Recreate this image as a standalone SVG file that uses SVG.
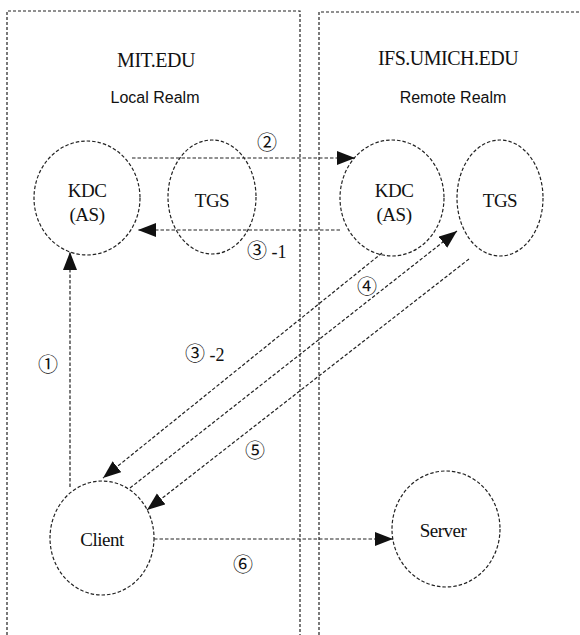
<svg xmlns="http://www.w3.org/2000/svg" width="580" height="635" viewBox="0 0 580 635">
<style>
.frame{fill:none;stroke:#222;stroke-width:1.2;stroke-dasharray:3 2}
.node{fill:none;stroke:#222;stroke-width:1.2;stroke-dasharray:3.5 2}
.conn{fill:none;stroke:#222;stroke-width:1.2;stroke-dasharray:3.5 2}
.title{font-family:"Liberation Serif","Times New Roman",serif;font-size:20px;fill:#111;text-anchor:middle;letter-spacing:-0.5px}
.realm{font-family:"Liberation Sans",Arial,sans-serif;font-size:16px;fill:#111;text-anchor:middle}
.lbl{font-family:"Liberation Serif","Times New Roman",serif;font-size:19px;fill:#111;text-anchor:middle;letter-spacing:-0.5px}
.num{font-family:"Noto Sans CJK KR",serif;font-size:20px;fill:#111}
.dash{font-family:"Liberation Serif","Times New Roman",serif;font-size:18px}
</style>
<defs>
<marker id="arr" markerUnits="userSpaceOnUse" markerWidth="19" markerHeight="15" refX="18" refY="7" orient="auto">
<path d="M0,0 L18,7 L0,14 z" fill="#111"/>
</marker>
</defs>
<rect width="580" height="635" fill="#fff"/>
<g id="realms">
<path class="frame" d="M7,635 V11 H300 V635"/>
<path class="frame" d="M319,635 V12 H580"/>
<text class="title" x="156" y="67">MIT.EDU</text>
<text class="realm" x="155" y="103">Local Realm</text>
<text class="title" x="448" y="65">IFS.UMICH.EDU</text>
<text class="realm" x="453" y="103">Remote Realm</text>
</g>
<g id="local-kdc">
<ellipse class="node" cx="87" cy="198" rx="53" ry="57"/>
<text class="lbl" x="87" y="197">KDC</text>
<text class="lbl" x="87" y="221">(AS)</text>
</g>
<g id="local-tgs">
<ellipse class="node" cx="212" cy="197" rx="44" ry="57"/>
<text class="lbl" x="212" y="207">TGS</text>
</g>
<g id="remote-kdc">
<ellipse class="node" cx="392" cy="198" rx="52" ry="58"/>
<text class="lbl" x="394" y="197">KDC</text>
<text class="lbl" x="394" y="221">(AS)</text>
</g>
<g id="remote-tgs">
<ellipse class="node" cx="500" cy="198" rx="43" ry="58"/>
<text class="lbl" x="500" y="207">TGS</text>
</g>
<g id="client">
<ellipse class="node" cx="102" cy="538" rx="52" ry="57"/>
<text class="lbl" x="102" y="546">Client</text>
</g>
<g id="server">
<ellipse class="node" cx="446" cy="529" rx="54" ry="58"/>
<text class="lbl" x="443" y="537">Server</text>
</g>
<g id="connectors">
<path class="conn" d="M70,487 V252" marker-end="url(#arr)"/>
<path class="conn" d="M132,158 H355" marker-end="url(#arr)"/>
<path class="conn" d="M340,230 H138" marker-end="url(#arr)"/>
<path class="conn" d="M382,253 L103,478" marker-end="url(#arr)"/>
<path class="conn" d="M130,488 L457,231" marker-end="url(#arr)"/>
<path class="conn" d="M469,259 L147,510" marker-end="url(#arr)"/>
<path class="conn" d="M154,539 H393" marker-end="url(#arr)"/>
<text class="num" x="48" y="372" text-anchor="middle">①</text>
<text class="num" x="267" y="150" text-anchor="middle">②</text>
<text class="num" x="247" y="258">③<tspan class="dash"> -1</tspan></text>
<text class="num" x="185" y="361">③<tspan class="dash"> -2</tspan></text>
<text class="num" x="367" y="294" text-anchor="middle">④</text>
<text class="num" x="255" y="458" text-anchor="middle">⑤</text>
<text class="num" x="243" y="572" text-anchor="middle">⑥</text>
</g>
</svg>
